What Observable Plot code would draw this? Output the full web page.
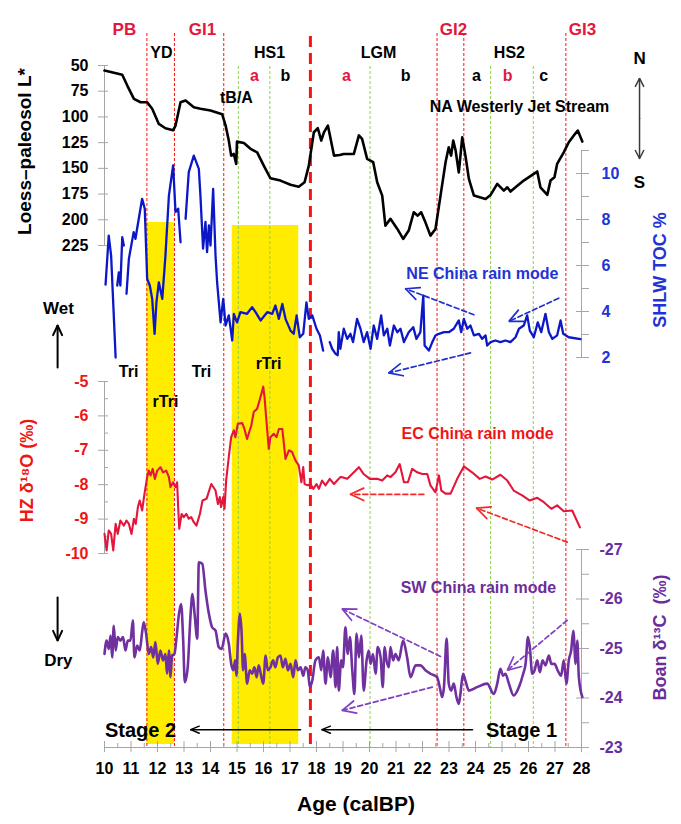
<!DOCTYPE html>
<html>
<head>
<meta charset="utf-8">
<script src="https://cdn.jsdelivr.net/npm/d3@7"></script>
<script src="https://cdn.jsdelivr.net/npm/@observablehq/plot@0.6"></script>
<style>
  html, body { margin: 0; padding: 0; background: #fff; }
  #chart { position: relative; width: 681px; height: 824px; overflow: hidden; }
  #chart svg { position: absolute; left: 0; top: 0; background: transparent; overflow: visible; }
</style>
</head>
<body>
<div id="chart"></div>
<script>
// ---------------------------------------------------------------- data
const ageDomain = [10, 28];
const ageTicks = [10, 11, 12, 13, 14, 15, 16, 17, 18, 19, 20, 21, 22, 23, 24, 25, 26, 27, 28];
const xTitle = "Age (calBP)";

// Loess–paleosol lightness L* (age ka, L*)
const lstarDomain = [50, 225];
const lstarTicks = [50, 75, 100, 125, 150, 175, 200, 225];
const lstarTitle = "Loess–paleosol L*";
const lstar = [
  [10.0,54.9],[10.67,59],[10.86,69.5],[11.11,82.4],[11.36,85.7],[11.61,85.7],[11.8,92],[12.05,106.8],
  [12.3,111],[12.59,113],[12.68,108.4],[12.87,85.7],[13.06,84],[13.37,90.5],[13.62,92],[14.0,93.8],
  [14.44,97.3],[14.57,108.4],[14.69,123],[14.78,137.6],[14.88,136],[14.97,145.7],[15.0,124],[15.26,125.3],
  [15.51,131],[15.76,134.4],[16.01,147.3],[16.26,159.6],[16.64,161.9],[17.02,166],[17.33,167.8],[17.55,163.5],
  [17.71,147.3],[17.9,114.9],[18.05,111],[18.18,123],[18.28,115],[18.43,108.4],[18.53,121],[18.66,137.6],
  [18.88,137],[19.03,136],[19.41,136],[19.6,118],[19.72,121.3],[19.91,140.8],[20.14,144],[20.29,163.5],
  [20.48,176.5],[20.6,205.7],[20.79,199],[21.05,208.9],[21.27,218.6],[21.48,210.5],[21.67,192.7],[21.82,196],
  [21.95,192.7],[22.11,202.5],[22.3,215.4],[22.49,209],[22.68,176.5],[22.87,144],[22.99,129.5],[23.08,137.6],
  [23.16,123],[23.25,132.7],[23.37,154],[23.5,119.8],[23.62,137.6],[23.75,160.2],[23.94,176.5],[24.38,179.7],
  [24.57,175.8],[24.82,165.1],[25.07,171.6],[25.2,168.4],[25.32,172.6],[25.51,168.4],[25.82,161.9],[26.2,155.4],
  [26.33,153],[26.45,168.4],[26.71,175.8],[26.83,161.9],[26.98,158.7],[27.08,145.7],[27.33,134.4],[27.52,124.6],
  [27.71,118],[27.86,113.3],[28.03,124]
];

// SHLW total organic carbon (age ka, TOC %); NaN marks a break in the record
const tocDomain = [2, 11];
const tocTicks = [2, 4, 6, 8, 10];
const tocMinorTicks = [3, 5, 7, 9, 11];
const tocTitle = "SHLW TOC %";
const toc = [
  [10.04,5.17],[10.16,7.3],[10.25,6.43],[10.42,2.0],[10.45,NaN],
  [10.48,5.13],[10.54,5.7],[10.6,5.13],[10.67,7.23],[10.73,6.87],[10.78,NaN],
  [10.83,4.77],[10.92,6.29],[11.1,7.45],[11.17,7.16],[11.23,7.6],[11.42,8.9],[11.52,8.47],[11.61,5.42],
  [11.71,5.13],[11.8,4.55],[11.89,3.03],[11.96,4.4],[12.05,5.27],[12.18,4.55],[12.3,6.43],[12.43,9.04],
  [12.59,10.35],[12.68,8.32],[12.78,8.47],[12.87,7.01],[12.95,NaN],
  [13.06,8.03],[13.18,10.06],[13.37,10.78],[13.56,10.2],[13.62,9.04],[13.72,6.73],[13.81,7.9],[13.87,6.58],
  [13.94,7.74],[14.0,6.87],[14.1,9.33],[14.19,6.43],[14.25,5.27],[14.38,3.53],[14.48,4.55],[14.57,3.39],
  [14.69,3.83],[14.82,2.74],[14.88,3.9],[15.0,3.53],[15.13,3.97],[15.38,3.9],[15.57,4.19],[15.7,3.97],
  [15.89,3.61],[16.14,3.97],[16.33,3.9],[16.45,4.26],[16.58,3.68],[16.71,4.33],[16.83,3.68],[17.02,3.17],
  [17.14,3.03],[17.25,3.83],[17.37,2.88],[17.5,3.03],[17.62,4.4],[17.71,3.68],[17.84,3.83],[18.0,3.25],
  [18.13,2.96],[18.25,2.3],[18.35,NaN],
  [18.5,2.67],[18.59,2.38],[18.72,2.16],[18.8,2.1],[18.84,3.1],[18.9,2.38],[19.03,3.25],[19.16,2.81],
  [19.28,3.03],[19.38,2.67],[19.53,3.68],[19.66,3.25],[19.78,2.67],[19.91,3.1],[20.04,2.38],[20.16,3.39],
  [20.29,2.81],[20.44,3.83],[20.54,2.96],[20.67,3.25],[20.77,2.52],[20.92,3.39],[21.05,3.1],[21.17,3.25],
  [21.3,2.67],[21.48,3.1],[21.65,3.32],[21.77,2.81],[21.92,3.1],[22.03,4.7],[22.08,2.52],[22.24,2.3],
  [22.37,2.67],[22.49,2.96],[22.62,3.03],[22.81,3.1],[22.99,3.1],[23.18,3.25],[23.37,3.61],[23.46,3.1],
  [23.56,3.68],[23.69,3.25],[23.81,3.39],[23.94,2.96],[24.13,3.03],[24.25,2.81],[24.38,2.96],[24.44,2.52],
  [24.57,2.67],[24.75,2.74],[24.94,2.67],[25.13,2.74],[25.32,2.67],[25.51,2.88],[25.64,3.25],[25.82,3.39],
  [25.95,3.83],[26.05,3.17],[26.2,2.88],[26.35,3.53],[26.48,3.1],[26.64,3.9],[26.77,3.1],[26.9,2.81],
  [27.08,2.96],[27.21,3.61],[27.31,3.03],[27.52,2.88],[27.96,2.8]
];

// Hulu/Zhang HZ speleothem δ18O (age ka, ‰)
const hzDomain = [-10, -5];
const hzTicks = [-10, -9, -8, -7, -6, -5];
const hzMinorTicks = [-9.5, -8.5, -7.5, -6.5, -5.5];
const hzTitle = "HZ δ¹⁸O (‰)";
const hz = [
  [10.0,-9.43],[10.08,-9.91],[10.16,-9.33],[10.25,-9.43],[10.33,-9.91],[10.42,-9.14],[10.5,-9.43],[10.6,-9.04],
  [10.73,-9.19],[10.83,-9.04],[10.92,-9.14],[11.02,-9.43],[11.11,-8.99],[11.18,-9.14],[11.26,-8.65],[11.33,-8.46],
  [11.42,-8.75],[11.51,-8.26],[11.61,-7.78],[11.67,-7.59],[11.74,-7.73],[11.82,-7.54],[11.9,-7.83],[11.99,-7.59],
  [12.11,-7.49],[12.21,-7.64],[12.33,-7.59],[12.43,-7.78],[12.49,-8.07],[12.59,-7.93],[12.68,-8.07],[12.74,-7.93],
  [12.78,-8.65],[12.82,-9.28],[12.91,-8.85],[12.99,-8.94],[13.09,-8.85],[13.18,-8.99],[13.27,-8.94],[13.37,-9.09],
  [13.47,-9.19],[13.6,-8.85],[13.7,-8.46],[13.85,-8.41],[14.03,-7.98],[14.19,-8.17],[14.28,-8.56],[14.35,-8.36],
  [14.4,-8.65],[14.48,-8.36],[14.53,-8.7],[14.59,-7.88],[14.69,-7.2],[14.78,-6.62],[14.88,-6.42],[14.94,-6.62],
  [15.03,-6.23],[15.2,-6.21],[15.28,-6.38],[15.38,-6.67],[15.54,-6.28],[15.63,-5.89],[15.76,-5.79],[15.85,-5.55],
  [15.92,-5.36],[15.99,-5.15],[16.04,-5.46],[16.1,-6.04],[16.2,-6.96],[16.26,-6.62],[16.39,-6.52],[16.49,-6.62],
  [16.58,-6.38],[16.71,-6.38],[16.83,-7.25],[16.96,-7.0],[17.08,-7.05],[17.21,-7.3],[17.33,-7.44],[17.43,-7.93],
  [17.5,-7.49],[17.55,-7.98],[17.67,-8.02],[17.77,-7.98],[17.88,-8.12],[18.0,-7.98],[18.09,-8.12],[18.21,-7.88],
  [18.34,-8.02],[18.5,-7.83],[18.66,-7.98],[18.78,-7.88],[18.9,-7.78],[18.97,-7.78],[19.16,-7.83],[19.41,-7.64],
  [19.6,-7.49],[19.78,-7.69],[20.01,-7.83],[20.29,-7.83],[20.48,-7.88],[20.67,-7.73],[20.79,-7.78],[20.98,-7.64],
  [21.14,-7.4],[21.3,-7.93],[21.45,-7.93],[21.61,-7.54],[21.8,-7.64],[21.99,-7.69],[22.18,-7.69],[22.3,-8.02],
  [22.49,-8.22],[22.62,-7.73],[22.71,-8.17],[22.87,-8.26],[23.06,-8.26],[23.31,-7.83],[23.56,-7.47],[23.87,-7.64],
  [24.16,-7.83],[24.38,-7.76],[24.63,-7.85],[24.94,-7.71],[25.2,-7.88],[25.44,-8.17],[25.76,-8.31],[26.05,-8.46],
  [26.33,-8.38],[26.58,-8.51],[26.86,-8.7],[27.08,-8.6],[27.33,-8.77],[27.65,-8.75],[27.94,-9.24]
];

// Boan δ13C (age ka, ‰), plotted on a reversed axis
const boanDomain = [-27, -23];
const boanTicks = [-27, -26, -25, -24, -23];
const boanMinorTicks = [-26.5, -25.5, -24.5, -23.5];
const boanTitle = "Boan δ¹³C  (‰)";
const boan = [
  [10.0,-24.89],[10.08,-25.16],[10.16,-24.99],[10.23,-25.26],[10.29,-24.82],[10.35,-25.46],[10.42,-24.96],[10.5,-25.23],
  [10.6,-25.16],[10.7,-25.23],[10.79,-24.96],[10.88,-25.16],[10.98,-25.16],[11.07,-25.57],[11.13,-24.82],[11.23,-25.06],
  [11.33,-24.96],[11.42,-25.33],[11.48,-25.53],[11.57,-25.3],[11.67,-24.89],[11.76,-25.03],[11.84,-24.82],[11.92,-25.13],
  [12.01,-24.69],[12.11,-24.96],[12.21,-24.76],[12.3,-24.89],[12.36,-24.49],[12.43,-24.96],[12.49,-24.42],[12.55,-24.86],
  [12.64,-24.89],[12.72,-25.23],[12.81,-25.7],[12.89,-25.9],[12.97,-25.16],[13.03,-24.32],[13.14,-24.62],[13.25,-25.7],
  [13.32,-26.1],[13.4,-25.7],[13.5,-25.2],[13.56,-26.74],[13.69,-26.71],[13.81,-26.17],[13.94,-25.7],[14.06,-25.43],
  [14.19,-25.36],[14.31,-25.03],[14.42,-24.99],[14.57,-25.3],[14.69,-25.1],[14.78,-24.69],[14.86,-24.56],[14.93,-24.76],
  [14.98,-24.45],[15.03,-25.1],[15.11,-25.7],[15.17,-25.36],[15.23,-24.56],[15.29,-24.89],[15.38,-24.29],[15.48,-24.56],
  [15.57,-24.49],[15.66,-24.62],[15.74,-24.42],[15.82,-24.66],[15.91,-24.45],[15.99,-24.29],[16.08,-24.86],[16.16,-24.56],
  [16.26,-24.62],[16.36,-24.76],[16.45,-24.62],[16.54,-24.82],[16.64,-24.86],[16.73,-24.62],[16.83,-24.79],[16.92,-24.56],
  [17.02,-24.69],[17.12,-24.42],[17.21,-24.76],[17.3,-24.56],[17.4,-24.62],[17.5,-24.45],[17.58,-24.62],[17.67,-24.56],
  [17.75,-24.22],[17.84,-24.35],[17.96,-24.76],[18.09,-24.82],[18.18,-24.56],[18.25,-24.96],[18.34,-24.29],[18.43,-24.82],
  [18.53,-24.42],[18.63,-24.96],[18.72,-24.22],[18.78,-25.03],[18.84,-24.15],[18.93,-24.76],[19.0,-24.62],[19.09,-25.43],
  [19.18,-24.89],[19.26,-25.23],[19.35,-24.56],[19.43,-24.08],[19.51,-25.3],[19.6,-24.82],[19.69,-25.26],[19.78,-24.15],
  [19.89,-24.76],[19.97,-24.96],[20.04,-24.69],[20.13,-24.89],[20.23,-24.49],[20.31,-25.03],[20.42,-24.82],[20.5,-24.22],
  [20.57,-25.03],[20.64,-24.76],[20.73,-24.62],[20.79,-25.03],[20.89,-24.76],[20.98,-24.89],[21.1,-24.76],[21.27,-25.16],
  [21.42,-24.82],[21.55,-24.42],[21.74,-24.66],[21.92,-24.66],[22.11,-24.56],[22.3,-24.49],[22.55,-24.42],[22.65,-24.22],
  [22.74,-24.02],[22.81,-24.22],[22.91,-25.2],[22.99,-24.29],[23.08,-24.15],[23.18,-24.29],[23.28,-24.02],[23.37,-23.88],
  [23.43,-24.08],[23.53,-24.49],[23.62,-24.35],[23.75,-24.15],[24.06,-24.22],[24.44,-24.29],[24.69,-24.08],[24.82,-24.29],
  [24.94,-24.59],[25.04,-24.45],[25.13,-24.49],[25.26,-24.29],[25.44,-24.05],[25.64,-24.22],[25.8,-24.49],[25.89,-24.69],
  [25.98,-25.23],[26.05,-25.03],[26.14,-24.49],[26.23,-24.56],[26.33,-24.76],[26.43,-24.52],[26.53,-24.76],[26.64,-24.66],
  [26.77,-24.86],[26.86,-24.69],[26.98,-24.69],[27.1,-24.56],[27.23,-24.45],[27.33,-24.76],[27.43,-24.29],[27.52,-24.76],
  [27.61,-24.96],[27.69,-25.36],[27.78,-24.69],[27.84,-25.16],[27.9,-24.42],[28.03,-24.02]
];

// Event boundaries (age ka) and shaded reversed-trend intervals
const eventBoundaries = [11.6, 12.64, 14.5, 22.55, 23.56, 27.41];
const stageBoundary = [17.77];
const phaseBoundaries = [15.05, 16.24, 20.02, 24.57, 26.18];
const bandStart = [11.6, 14.82];
const bandEnd = [12.64, 17.33];

// Interval names: [age, label, highlighted]
const eventNames = [[10.75, "PB"], [13.7, "GI1"], [23.17, "GI2"], [28.04, "GI3"]];
const stadialNames = [[12.15, "YD"], [16.23, "HS1"], [20.34, "LGM"], [25.28, "HS2"]];
const phaseNames = [[15.66, "a", true], [16.83, "b", false], [19.13, "a", true], [21.36, "b", false],
                    [24.04, "a", false], [25.21, "b", true], [26.57, "c", false]];
const lstarNotes = [[14.98, 81.1, "tB/A"], [25.66, 89.9, "NA Westerly Jet Stream"]];
const jetAxis = {age: 30.19, north: 62.6, south: 140.4, labelN: 43.2, labelS: 163.75};

// Trend labels on the δ18O panel: [age, ‰, label]
const trendNotes = [[10.91, -4.71, "Tri"], [13.66, -4.71, "Tri"], [16.19, -4.48, "rTri"], [12.3, -5.58, "rTri"]];

// Rain-mode annotations, each in its own panel units
const neNote = [[24.26, 5.65, "NE China rain mode"]];
const neArrows = [
  {x1: 23.94, y1: 3.86, x2: 21.36, y2: 4.99},
  {x1: 27.14, y1: 4.58, x2: 25.26, y2: 3.57},
  {x1: 23.81, y1: 2.2, x2: 20.73, y2: 1.33}
];
const ecNote = [[24.08, -6.51, "EC China rain mode"]];
const ecArrows = [
  {x1: 22.05, y1: -8.28, x2: 19.28, y2: -8.28},
  {x1: 27.46, y1: -9.67, x2: 24.04, y2: -8.68}
];
const swNote = [[24.11, -26.23, "SW China rain mode"]];
const swArrows = [
  {x1: 22.68, y1: -24.84, x2: 18.97, y2: -25.8},
  {x1: 22.37, y1: -24.22, x2: 18.97, y2: -23.75},
  {x1: 27.46, y1: -25.57, x2: 25.2, y2: -24.56}
];
const wetNote = {age: 8.26, toc: 4.13, from: 1.57, to: 3.39, arrowAge: 8.23};
const dryNote = {age: 8.26, d13c: -24.76, from: -26.03, to: -25.16, arrowAge: 8.23};
const stageArrows = [{x1: 17.4, x2: 13.25, y: -23.36}, {x1: 23.89, x2: 18.2, y: -23.36}];
const stageNames = [[11.36, -23.34, "Stage 2"], [25.74, -23.34, "Stage 1"]];

// ---------------------------------------------------------------- styling
const W = 681, H = 824;
const FONT = '"Liberation Sans", Arial, Helvetica, sans-serif';
const GRAY = "#a6a6a6";
const C = {
  black: "#000000", blue: "#0c18c8", blueText: "#2233d6", red: "#e3163c", redText: "#f01515",
  headRed: "#e3173e", purple: "#7030a0", purpleText: "#6b2c9c", yellow: "#ffec00",
  green: "#8fce4c", vRed: "#ff1010", arrowBlue: "#1f2fd0", arrowRed: "#f22a2a", arrowPurple: "#8040c0"
};
const plain = d => String(d);
const chart = document.getElementById("chart");

function layer({x = {}, ...options}) {
  const svg = Plot.plot({
    width: W, height: H,
    marginLeft: 104, marginRight: 100, marginTop: 0, marginBottom: 0,
    style: {fontFamily: FONT, background: "transparent", overflow: "visible"},
    ...options,
    x: {domain: ageDomain, axis: null, ...x}
  });
  // arrowheads stay solid while the shafts keep their dash pattern
  svg.querySelectorAll('g[aria-label="arrow"] path').forEach(p => {
    const d = p.getAttribute("d");
    const k = d.indexOf("M", 1);
    if (k < 0) return;
    const head = p.cloneNode();
    head.setAttribute("d", d.slice(k));
    head.style.strokeDasharray = "none";
    p.setAttribute("d", d.slice(0, k));
    p.after(head);
  });
  chart.append(svg);
  return svg;
}

function yAxisMarks({anchor, major, minor = [], domain, fill, padding}) {
  const left = anchor === "left";
  const marks = [
    Plot.ruleX([left ? ageDomain[0] : ageDomain[1]], {y1: domain[0], y2: domain[1], stroke: GRAY}),
    Plot.axisY({anchor, ticks: major, tickSize: left ? 10 : 13, dx: left ? 4 : -6, stroke: GRAY, tickFormat: () => "", label: null}),
    Plot.axisY({anchor, ticks: major, tickSize: 0, tickPadding: padding, fill, fontSize: 16, fontWeight: "bold", tickFormat: plain, label: null})
  ];
  if (minor.length) marks.push(Plot.axisY({anchor, ticks: minor, tickSize: left ? 4 : 7, dx: left ? 4 : 0, stroke: GRAY, tickFormat: () => "", label: null}));
  return marks;
}

// rotated axis title, centred on the middle of the axis
function axisTitle(text, domain, side, fill, dx, dy, size = 18) {
  return Plot.text([text], {
    y: () => d3.mean(domain), frameAnchor: side, dx, dy, rotate: -90,
    textAnchor: "middle", lineAnchor: "middle",
    fill, fontSize: size, fontWeight: "bold"
  });
}

function dashedArrows(data, stroke) {
  return Plot.arrow(data, {
    x1: "x1", y1: "y1", x2: "x2", y2: "y2", stroke, strokeWidth: 1.7,
    strokeDasharray: "5,3", headLength: 13, headAngle: 50
  });
}

function notes(data, fill, size = 16) {
  return Plot.text(data, {x: d => d[0], y: d => d[1], text: d => d[2], fill, fontSize: size, fontWeight: "bold"});
}

// ---------------------------------------------------------------- shading and boundaries
layer({
  marginTop: 33, marginBottom: 76,
  marks: [
    Plot.rect([0], {x1: () => bandStart[0], x2: () => bandEnd[0], fill: C.yellow, insetTop: 189, insetBottom: 4}),
    Plot.rect([1], {x1: () => bandStart[1], x2: () => bandEnd[1], fill: C.yellow, insetTop: 192, insetBottom: 4}),
    Plot.ruleX(phaseBoundaries, {stroke: C.green, strokeWidth: 1, strokeDasharray: "3,2", insetTop: 33}),
    Plot.ruleX(eventBoundaries, {stroke: C.vRed, strokeWidth: 1, strokeDasharray: "3,2"}),
    Plot.ruleX(stageBoundary, {stroke: C.vRed, strokeWidth: 3, strokeDasharray: "11,6", insetTop: 3, insetBottom: 3})
  ]
});

// ---------------------------------------------------------------- loess L* panel
layer({
  y: {domain: lstarDomain, range: [65, 245], axis: null},
  marks: [
    ...yAxisMarks({anchor: "left", major: lstarTicks, domain: lstarDomain, fill: C.black, padding: 16}),
    axisTitle(lstarTitle, lstarDomain, "left", C.black, -80, -4, 19),
    Plot.line(lstar, {stroke: C.black, strokeWidth: 2.6}),
    Plot.text(eventNames, {x: d => d[0], text: d => d[1], frameAnchor: "top", dy: 22, fill: C.headRed, fontSize: 17, fontWeight: "bold"}),
    Plot.text(stadialNames, {x: d => d[0], text: d => d[1], frameAnchor: "top", dy: 46, fill: C.black, fontSize: 16, fontWeight: "bold"}),
    Plot.text(phaseNames.filter(d => d[2]), {x: d => d[0], text: d => d[1], frameAnchor: "top", dy: 69, fill: C.headRed, fontSize: 16, fontWeight: "bold"}),
    Plot.text(phaseNames.filter(d => !d[2]), {x: d => d[0], text: d => d[1], frameAnchor: "top", dy: 69, fill: C.black, fontSize: 16, fontWeight: "bold"}),
    notes(lstarNotes, C.black),
    Plot.arrow([jetAxis], {x1: "age", x2: "age", y1: d => (d.north + d.south) / 2, y2: "north", stroke: "#3a3a3a", strokeWidth: 1.5, headLength: 9, headAngle: 55}),
    Plot.arrow([jetAxis], {x1: "age", x2: "age", y1: d => (d.north + d.south) / 2, y2: "south", stroke: "#3a3a3a", strokeWidth: 1.5, headLength: 9, headAngle: 55}),
    Plot.text([jetAxis], {x: "age", y: "labelN", text: () => "N", fontSize: 17, fontWeight: "bold"}),
    Plot.text([jetAxis], {x: "age", y: "labelS", text: () => "S", fontSize: 17, fontWeight: "bold"})
  ]
});

// ---------------------------------------------------------------- SHLW TOC panel
layer({
  y: {domain: tocDomain, range: [357, 150], axis: null},
  marks: [
    ...yAxisMarks({anchor: "right", major: tocTicks, minor: tocMinorTicks, domain: tocDomain, fill: C.blueText, padding: 20}),
    axisTitle(tocTitle, tocDomain, "right", C.blueText, 79, 16),
    Plot.line(toc, {stroke: C.blue, strokeWidth: 2.3}),
    notes(neNote, C.blueText),
    dashedArrows(neArrows, C.arrowBlue),
    Plot.text([wetNote], {x: "age", y: "toc", text: () => "Wet", fontSize: 17, fontWeight: "bold"}),
    Plot.arrow([wetNote], {x1: "arrowAge", x2: "arrowAge", y1: "from", y2: "to", stroke: C.black, strokeWidth: 2, headLength: 8, headAngle: 50})
  ]
});

// ---------------------------------------------------------------- HZ δ18O panel
layer({
  y: {domain: hzDomain, range: [553, 381], axis: null},
  marks: [
    ...yAxisMarks({anchor: "left", major: hzTicks, minor: hzMinorTicks, domain: hzDomain, fill: C.redText, padding: 16}),
    axisTitle(hzTitle, hzDomain, "left", C.redText, -77, 3),
    Plot.line(hz, {stroke: C.red, strokeWidth: 2.1}),
    notes(trendNotes, C.black),
    notes(ecNote, C.redText),
    dashedArrows(ecArrows, C.arrowRed)
  ]
});

// ---------------------------------------------------------------- Boan δ13C panel and age axis
layer({
  marginBottom: 77,
  y: {domain: boanDomain, range: [549, 747], axis: null},
  marks: [
    Plot.ruleY([boanDomain[1]], {stroke: GRAY}),
    Plot.axisX({ticks: ageTicks, tickSize: 11, dy: -6, stroke: GRAY, tickFormat: () => "", label: null}),
    Plot.axisX({ticks: d3.range(10.5, 28, 1), tickSize: 5, dy: -4, stroke: GRAY, tickFormat: () => "", label: null}),
    Plot.axisX({ticks: ageTicks, tickSize: 0, tickPadding: 15, fill: C.black, fontSize: 16, fontWeight: "bold", tickFormat: plain, label: null}),
    Plot.text([xTitle], {frameAnchor: "bottom", dx: 13, dy: 63, fontSize: 21, fontWeight: "bold"}),
    ...yAxisMarks({anchor: "right", major: boanTicks, minor: boanMinorTicks, domain: boanDomain, fill: C.purpleText, padding: 18}),
    axisTitle(boanTitle, boanDomain, "right", C.purpleText, 79, -11),
    Plot.line(boan, {stroke: C.purple, strokeWidth: 2.6, curve: "monotone-x"}),
    notes(swNote, C.purpleText),
    dashedArrows(swArrows, C.arrowPurple),
    Plot.arrow(stageArrows, {x1: "x1", x2: "x2", y1: "y", y2: "y", stroke: C.black, strokeWidth: 1.4, headLength: 10, headAngle: 45}),
    notes(stageNames, C.black, 20),
    Plot.text([dryNote], {x: "age", y: "d13c", text: () => "Dry", fontSize: 17, fontWeight: "bold"}),
    Plot.arrow([dryNote], {x1: "arrowAge", x2: "arrowAge", y1: "from", y2: "to", stroke: C.black, strokeWidth: 2, headLength: 8, headAngle: 50})
  ]
});
</script>
</body>
</html>
